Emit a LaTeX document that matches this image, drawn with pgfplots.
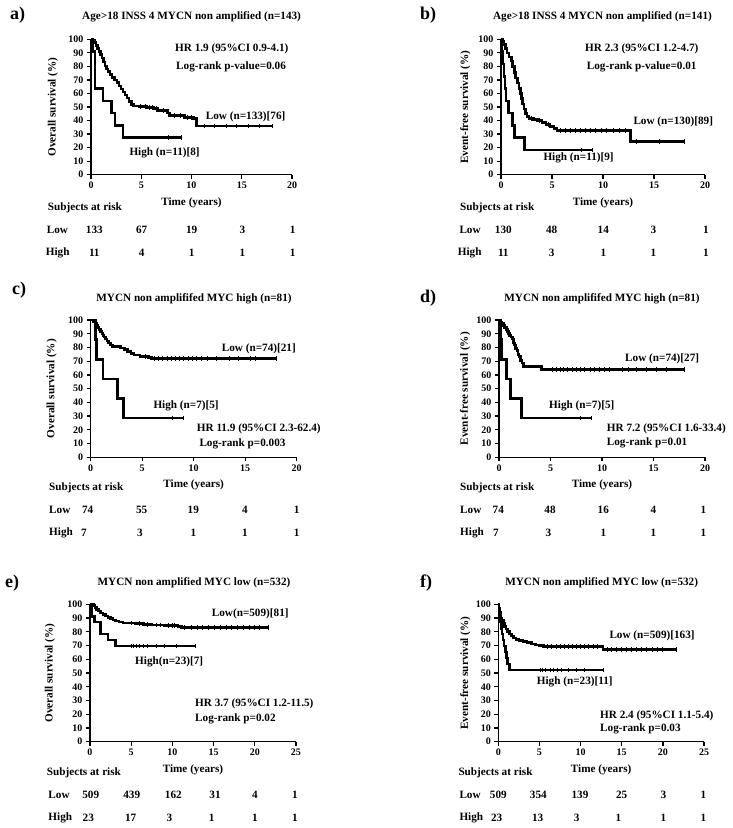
\documentclass[border=0pt]{standalone}
\usepackage{fontspec}
\setmainfont{Liberation Serif}
\usepackage{pgfplots}
\pgfplotsset{compat=1.18}

\newcommand\kmfont{\bfseries\fontsize{11.2}{13}\selectfont}
\newcommand\tkfont{\bfseries\fontsize{10}{12}\selectfont}

\pgfplotsset{
  km/.style={
    anchor=south west, scale only axis, clip=false,
    axis lines=left, axis line style={-, line width=1.3pt},
    tick align=outside, major tick length=4pt,
    tick style={line width=1.3pt, black},
    ymin=0, ymax=100, ytick={0,10,...,100},
    xmin=0, xtick distance=5,
    tick label style={font=\tkfont},
    /pgf/number format/assume math mode=true,
    xlabel={Time (years)},
    every axis x label/.style={at={(axis description cs:0.5,0)}, anchor=center, yshift=-28pt, font=\kmfont},
    every axis y label/.style={rotate=90, anchor=center, font=\kmfont},
  },
  surv/.style={const plot, black, line width=2.6pt, mark=none},
  cens/.style={only marks, mark=|, mark size=2.3pt, black, mark options={line width=0.8pt}},
}

\begin{document}
\begin{tikzpicture}
\useasboundingbox (0,0) rectangle (733pt,828pt);

% a) OS, age>18 INSS 4
\begin{axis}[km, at={(91pt,653.3pt)}, width=201pt, height=135.4pt, xmax=20,
  ylabel={Overall survival (\%)}, ylabel style={at={(axis description cs:-0.19,0.5)}}]
\addplot[surv] coordinates {(0,100)(0.2,99.2)(0.35,97.7)(0.5,95.5)(0.65,93.2)(0.8,90.9)(0.95,88.6)(1.1,86.3)(1.25,83.3)(1.4,80.2)(1.55,78)(1.7,76)(1.9,74)(2.1,72)(2.35,70)(2.6,67.9)(2.8,65.6)(3,63.4)(3.2,61.1)(3.4,58.8)(3.6,56.5)(3.8,54.2)(4,52)(4.2,50.8)(4.8,50.2)(5.5,49.5)(6.2,48.7)(6.6,47.2)(7.6,45.5)(7.8,43.6)(9.3,42.4)(10.2,41.5)(10.5,36)(18,36)};
\addplot[cens] coordinates {(4.9,50.2)(5.4,50.2)(5.8,49.5)(6.1,49.5)(6.5,48.7)(7.2,47.2)(8.3,43.6)(8.9,43.6)(9.6,42.4)(10,42.4)(11.3,36)(12.3,36)(13.5,36)(14.5,36)(15.7,36)(16.8,36)(18,36)};
\addplot[surv] coordinates {(0,100)(0.2,90.9)(0.4,63.6)(1.2,54.5)(2.05,45.5)(2.4,36.4)(3.2,27.3)(9,27.3)};
\addplot[cens] coordinates {(7.7,27.3)(9,27.3)};
\end{axis}

% b) EFS, age>18 INSS 4
\begin{axis}[km, at={(501pt,653.3pt)}, width=204pt, height=135.4pt, xmax=20,
  ylabel={Event-free survival (\%)}, ylabel style={at={(axis description cs:-0.175,0.5)}}]
\addplot[surv] coordinates {(0,100)(0.15,98.5)(0.3,96.2)(0.45,93.1)(0.6,90)(0.8,87)(1,84)(1.15,80)(1.3,75.4)(1.45,71.5)(1.6,67.7)(1.75,63.8)(1.9,60)(2,56.2)(2.1,52.3)(2.25,48.5)(2.4,45.4)(2.55,43)(2.75,41.5)(3.2,40.8)(3.6,40)(4,38.5)(4.4,37)(4.8,35.5)(5.2,34)(5.5,32.5)(12.7,24.4)(18,24.4)};
\addplot[cens] coordinates {(3,41.5)(3.8,40)(4.6,37)(5.8,32.5)(6.3,32.5)(6.8,32.5)(7.3,32.5)(7.8,32.5)(8.3,32.5)(8.8,32.5)(9.3,32.5)(9.8,32.5)(10.3,32.5)(11,32.5)(11.6,32.5)(12.2,32.5)(13.3,24.4)(15.5,24.4)(18,24.4)};
\addplot[surv] coordinates {(0,100)(0.1,90.9)(0.2,81.8)(0.3,72.7)(0.4,63.6)(0.5,54.5)(0.75,45.5)(1.1,36.4)(1.35,27.3)(2.3,18.2)(9,18.2)};
\addplot[cens] coordinates {(7.9,18.2)(9,18.2)};
\end{axis}

% c) OS, MYC high
\begin{axis}[km, at={(90.7pt,370.7pt)}, width=206pt, height=137.3pt, xmax=20,
  ylabel={Overall survival (\%)}, ylabel style={at={(axis description cs:-0.19,0.5)}}]
\addplot[surv] coordinates {(0,100)(0.3,98.6)(0.45,97.3)(0.6,95.9)(0.7,94.5)(0.8,93.1)(0.95,91.7)(1.1,90.3)(1.2,88.9)(1.3,87.5)(1.45,86.1)(1.6,84.7)(1.75,83.3)(1.9,81.9)(2.1,80.5)(2.9,79.6)(3.3,78.5)(3.6,77.2)(3.9,75.8)(4.2,74.5)(4.8,73.4)(5.6,72.5)(5.9,71.8)(18,71.8)};
\addplot[cens] coordinates {(5.3,73.4)(6.2,71.8)(6.6,71.8)(7,71.8)(7.4,71.8)(7.8,71.8)(8.2,71.8)(8.6,71.8)(9,71.8)(9.5,71.8)(9.9,71.8)(10.3,71.8)(10.7,71.8)(11.3,71.8)(12.2,71.8)(13.5,71.8)(14.3,71.8)(15.5,71.8)(16,71.8)(18,71.8)};
\addplot[surv] coordinates {(0,100)(0.45,85.7)(0.55,71.4)(1.2,57.1)(2.6,42.9)(3.2,28.6)(9,28.6)};
\addplot[cens] coordinates {(7.9,28.6)(9,28.6)};
\end{axis}

% d) EFS, MYC high
\begin{axis}[km, at={(499pt,370.7pt)}, width=206pt, height=137.3pt, xmax=20,
  ylabel={Event-free survival (\%)}, ylabel style={at={(axis description cs:-0.165,0.5)}}]
\addplot[surv] coordinates {(0,100)(0.15,98.6)(0.3,97.3)(0.45,95.9)(0.55,94.5)(0.7,93.1)(0.8,91.7)(0.9,90.3)(1,88.9)(1.15,87.5)(1.3,86.1)(1.4,83.3)(1.5,81.9)(1.6,79.1)(1.75,77.7)(1.85,74.9)(1.95,73.5)(2.1,70.7)(2.25,68.6)(2.4,66.2)(4.1,64.1)(18,64.1)};
\addplot[cens] coordinates {(5.2,64.1)(5.6,64.1)(6,64.1)(6.3,64.1)(6.6,64.1)(7.1,64.1)(7.5,64.1)(7.9,64.1)(8.3,64.1)(8.9,64.1)(9.3,64.1)(9.7,64.1)(10.2,64.1)(10.7,64.1)(12,64.1)(12.6,64.1)(13.3,64.1)(14.3,64.1)(15.3,64.1)(16.3,64.1)(18,64.1)};
\addplot[surv] coordinates {(0,100)(0.2,85.7)(0.25,71.4)(0.7,57.1)(1.1,42.9)(2.2,28.6)(9,28.6)};
\addplot[cens] coordinates {(7.9,28.6)(9,28.6)};
\end{axis}

% e) OS, MYC low
\begin{axis}[km, at={(90pt,86.3pt)}, width=206pt, height=137.4pt, xmax=25,
  ylabel={Overall survival (\%)}, ylabel style={at={(axis description cs:-0.195,0.5)}}]
\addplot[surv] coordinates {(0,100)(0.4,99)(0.6,97.5)(0.8,96)(1,95)(1.3,93.8)(1.6,92.6)(1.9,91.5)(2.2,90.5)(2.5,89.6)(2.8,88.6)(3.1,87.8)(3.5,87)(4,86.5)(5.5,86)(6.5,85.5)(7.5,85)(9,84.5)(10.7,83.8)(11.1,83)(21.6,83)};
\addplot[cens] coordinates {(5,86.5)(6,86)(7,85.5)(8,85)(8.5,85)(9.5,84.5)(10,84.5)(10.3,84.5)(11.5,83)(12.3,83)(13,83)(13.7,83)(14.4,83)(15.1,83)(15.8,83)(16.5,83)(17.2,83)(17.9,83)(18.6,83)(19.3,83)(20,83)(20.6,83)(21.6,83)};
\addplot[surv] coordinates {(0,100)(0.25,91.3)(0.55,87)(1.3,78.3)(2.2,73.9)(3.1,69.6)(12.8,69.6)};
\addplot[cens] coordinates {(5,69.6)(5.3,69.6)(5.6,69.6)(6,69.6)(6.5,69.6)(7,69.6)(8,69.6)(9,69.6)(10.5,69.6)(12.8,69.6)};
\end{axis}

% f) EFS, MYC low
\begin{axis}[km, at={(498.3pt,86.3pt)}, width=205.7pt, height=137.4pt, xmax=25,
  ylabel={Event-free survival (\%)}, ylabel style={at={(axis description cs:-0.16,0.5)}}]
\addplot[surv] coordinates {(0,100)(0.08,97)(0.16,94)(0.25,92)(0.35,90)(0.45,88)(0.6,86)(0.75,84)(0.95,82)(1.15,80)(1.35,78.5)(1.6,77)(1.85,75.6)(2.15,74.5)(2.5,73.6)(3,72.8)(3.5,72)(4,71.2)(4.5,70.4)(5,69.8)(5.5,69.2)(12.7,67.3)(21.6,67.3)};
\addplot[cens] coordinates {(6,69.2)(6.5,69.2)(7,69.2)(7.5,69.2)(8,69.2)(8.5,69.2)(9,69.2)(9.5,69.2)(10,69.2)(10.5,69.2)(11,69.2)(11.5,69.2)(12,69.2)(13.2,67.3)(13.8,67.3)(14.4,67.3)(15,67.3)(15.6,67.3)(16.2,67.3)(16.8,67.3)(17.4,67.3)(18,67.3)(18.7,67.3)(19.3,67.3)(20,67.3)(21.6,67.3)};
\addplot[surv] coordinates {(0,100)(0.1,95.7)(0.2,91.3)(0.3,87)(0.38,82.6)(0.46,78.3)(0.55,73.9)(0.7,69.6)(0.85,65.2)(1,60.9)(1.1,56.5)(1.35,52.2)(12.8,52.2)};
\addplot[cens] coordinates {(5.1,52.2)(5.4,52.2)(5.7,52.2)(6.3,52.2)(6.7,52.2)(7.2,52.2)(7.7,52.2)(8.5,52.2)(9.5,52.2)(10.5,52.2)(12.8,52.2)};
\end{axis}

% texts, in pixel coordinates of the page (y downwards)
\begin{scope}[x=1pt, y=-1pt, shift={(0pt,828pt)}, every node/.style={font=\kmfont, inner sep=0pt}]
% panel letters
\foreach \x/\y/\l in {10/15/a, 420/15/b, 12/290/c, 420/298/d, 5/583/e, 420/583/f}
  \node[anchor=west, font=\bfseries\fontsize{18}{20}\selectfont] at (\x,\y) {\l)};
% titles
\node at (191.6,17.3) {Age>18 INSS 4 MYCN non amplified (n=143)};
\node at (602.5,17.3) {Age>18 INSS 4 MYCN non amplified (n=141)};
\node at (194,298.3) {MYCN non amplififed MYC high (n=81)};
\node at (602,298.3) {MYCN non amplififed MYC high (n=81)};
\node at (194,582.7) {MYCN non amplified MYC low (n=532)};
\node at (601.7,582.7) {MYCN non amplified MYC low (n=532)};
% annotations
\node[anchor=west] at (175,49) {HR 1.9 (95\%CI 0.9-4.1)};
\node[anchor=west] at (176,66.7) {Log-rank p-value=0.06};
\node[anchor=west] at (205.7,117.3) {Low (n=133)[76]};
\node[anchor=west] at (129.3,152.7) {High (n=11)[8]};
\node[anchor=west] at (585,49) {HR 2.3 (95\%CI 1.2-4.7)};
\node[anchor=west] at (586.7,66.7) {Log-rank p-value=0.01};
\node[anchor=west] at (633.3,121.7) {Low (n=130)[89]};
\node[anchor=west] at (543.3,158.3) {High (n=11)[9]};
\node[anchor=west] at (221.7,349) {Low (n=74)[21]};
\node[anchor=west] at (153.3,406) {High (n=7)[5]};
\node[anchor=west] at (196.7,429.3) {HR 11.9 (95\%CI 2.3-62.4)};
\node[anchor=west] at (199.3,444) {Log-rank p=0.003};
\node[anchor=west] at (625,359) {Low (n=74)[27]};
\node[anchor=west] at (549,405.7) {High (n=7)[5]};
\node[anchor=west] at (606.7,429.3) {HR 7.2 (95\%CI 1.6-33.4)};
\node[anchor=west] at (606.7,443.3) {Log-rank p=0.01};
\node[anchor=west] at (211.7,614.3) {Low(n=509)[81]};
\node[anchor=west] at (135,661.7) {High(n=23)[7]};
\node[anchor=west] at (195,704.3) {HR 3.7 (95\%CI 1.2-11.5)};
\node[anchor=west] at (195,719) {Log-rank p=0.02};
\node[anchor=west] at (609.3,635.7) {Low (n=509)[163]};
\node[anchor=west] at (536.7,682.3) {High (n=23)[11]};
\node[anchor=west] at (600,715.7) {HR 2.4 (95\%CI 1.1-5.4)};
\node[anchor=west] at (600,729.3) {Log-rank p=0.03};
% subjects at risk
\node[anchor=west] at (47.7,208.3) {Subjects at risk};
\node[anchor=west] at (46.7,230) {Low};
\node[anchor=west] at (45.7,252.7) {High};
\foreach \x/\n in {94.3/133, 141.7/67, 191.7/19, 242.3/3, 292.7/1} \node at (\x,230) {\n};
\foreach \x/\n in {94.3/11, 141.7/4, 191.7/1, 242.3/1, 292.7/1} \node at (\x,252.7) {\n};
\node[anchor=west] at (460,208.3) {Subjects at risk};
\node[anchor=west] at (459.3,230) {Low};
\node[anchor=west] at (457.7,252.7) {High};
\foreach \x/\n in {503.3/130, 551.7/48, 603.3/14, 653.3/3, 706/1} \node at (\x,230) {\n};
\foreach \x/\n in {503.3/11, 551.7/3, 603.3/1, 653.3/1, 706/1} \node at (\x,252.7) {\n};
\node[anchor=west] at (49,488.3) {Subjects at risk};
\node[anchor=west] at (49,510) {Low};
\node[anchor=west] at (49,533.3) {High};
\foreach \x/\n in {87.7/74, 141.7/55, 193.3/19, 245/4, 296.7/1} \node at (\x,510) {\n};
\foreach \x/\n in {84/7, 140/3, 193.3/1, 245/1, 296.7/1} \node at (\x,533.3) {\n};
\node[anchor=west] at (460,488.3) {Subjects at risk};
\node[anchor=west] at (460,510) {Low};
\node[anchor=west] at (460,533.3) {High};
\foreach \x/\n in {498.3/74, 550/48, 603.3/16, 653.3/4, 703.3/1} \node at (\x,510) {\n};
\foreach \x/\n in {496/7, 548.3/3, 603.3/1, 653.3/1, 703.3/1} \node at (\x,533.3) {\n};
\node[anchor=west] at (46.7,772.7) {Subjects at risk};
\node[anchor=west] at (48.3,795) {Low};
\node[anchor=west] at (48.3,817.7) {High};
\foreach \x/\n in {90.7/509, 131.7/439, 173.3/162, 215/31, 255/4, 295/1} \node at (\x,795) {\n};
\foreach \x/\n in {88.3/23, 130.7/17, 169.3/3, 211.7/1, 255/1, 295/1} \node at (\x,817.7) {\n};
\node[anchor=west] at (458.3,772.7) {Subjects at risk};
\node[anchor=west] at (459.3,795) {Low};
\node[anchor=west] at (459.3,817.7) {High};
\foreach \x/\n in {498.3/509, 538.3/354, 580/139, 621.7/25, 663.3/3, 703.3/1} \node at (\x,795) {\n};
\foreach \x/\n in {496.7/23, 537.7/13, 576.7/3, 618.3/1, 663.3/1, 703.3/1} \node at (\x,817.7) {\n};
\end{scope}
\end{tikzpicture}
\end{document}
